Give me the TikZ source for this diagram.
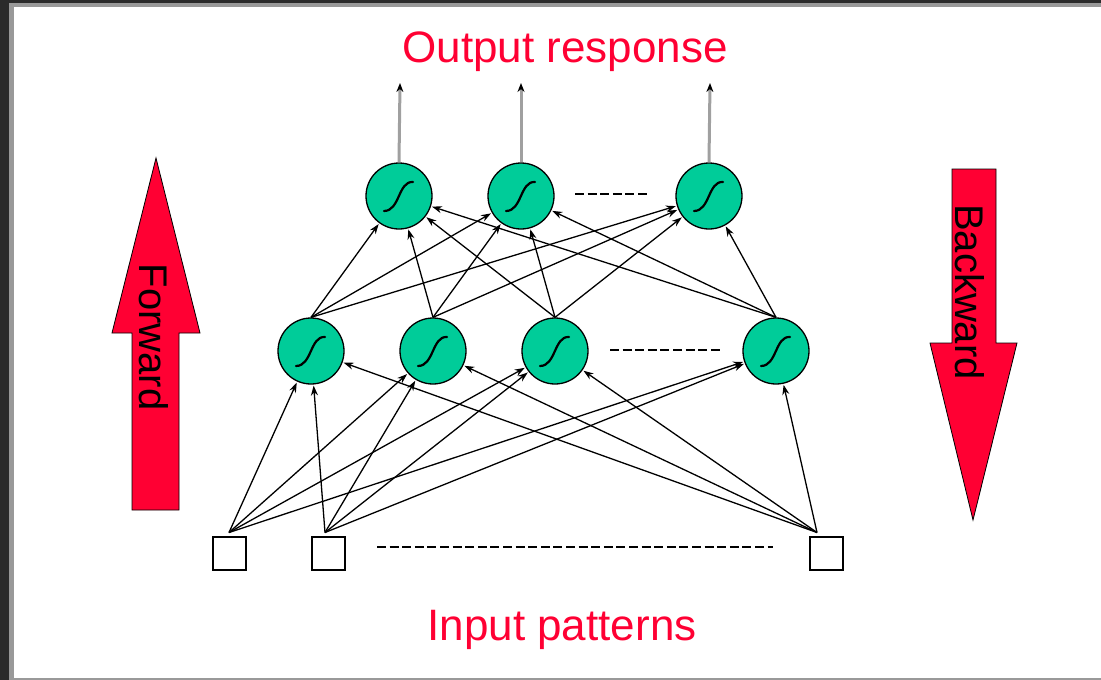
\documentclass[tikz,border=0pt]{standalone}
\usepackage{fontspec}
\setmainfont{Liberation Sans}
\usetikzlibrary{arrows.meta}
\definecolor{neuron}{RGB}{0,204,153}
\definecolor{redarrow}{RGB}{255,0,51}
\definecolor{framedark}{RGB}{43,43,43}
\definecolor{framegray}{RGB}{153,153,153}
\definecolor{outgray}{RGB}{160,160,160}
\begin{document}
\begin{tikzpicture}[x=1pt,y=-1pt,
  neuronnode/.style={circle, draw=black, line width=1.3pt, fill=neuron,
    minimum size=66pt, inner sep=0pt,
    path picture={\draw[line width=2.2pt, line cap=round]
      ([shift={(-15pt,-15pt)}]path picture bounding box.center)
      .. controls ([shift={(1pt,-15pt)}]path picture bounding box.center)
      and ([shift={(-1pt,15pt)}]path picture bounding box.center)
      .. ([shift={(14pt,14pt)}]path picture bounding box.center);}},
  inbox/.style={draw=black, line width=2pt, fill=white, minimum size=33pt, inner sep=0pt},
  conn/.style={line width=1.3pt, -{Stealth[length=10pt,width=7pt]}, shorten >=1pt},
  outconn/.style={line width=3pt, draw=outgray, -{Stealth[length=9pt,width=7pt,color=black]}},
  dashline/.style={line width=1.8pt, dash pattern=on 9pt off 3.6pt},
  redtext/.style={text=redarrow, font=\fontsize{44}{52}\selectfont, inner sep=0pt},
  bigarrow/.style={fill=redarrow, draw=black, line width=0.8pt},
  arrowtext/.style={font=\fontsize{40}{48}\selectfont, inner sep=0pt, rotate=-90}
]
\useasboundingbox (0,0) rectangle (1101,680);
% frame
\fill[framedark] (0,0) rectangle (1101,680);
\fill[framegray] (9,3) rectangle (1101,680);
\fill[white] (14,7) rectangle (1101,677.5);

% big arrows
\draw[bigarrow] (156,158) -- (200,333) -- (179,333) -- (179,510) -- (132,510) -- (132,333) -- (112,333) -- cycle;
\draw[bigarrow] (952,169) -- (996,169) -- (996,343) -- (1017,343) -- (973,520) -- (930,343) -- (952,343) -- cycle;
\node[arrowtext] (fw) at (154,337) {Forward};
\node[arrowtext] (bw) at (970,292) {Backward};

% texts
\node[redtext, anchor=base] (out) at (565,62) {Output response};
\node[redtext, anchor=base] (inp) at (562,640) {Input patterns};

% neurons
\node[neuronnode] (t1) at (399,196) {};
\node[neuronnode] (t2) at (521,196) {};
\node[neuronnode] (t3) at (709,196) {};
\node[neuronnode] (m1) at (311,351) {};
\node[neuronnode] (m2) at (433,351) {};
\node[neuronnode] (m3) at (555,351) {};
\node[neuronnode] (m4) at (776,351) {};
\node[inbox] (i1) at (229,553) {};
\node[inbox] (i2) at (328,553) {};
\node[inbox] (i3) at (826,553) {};

% input -> hidden
\foreach \m in {m1,m2,m3,m4}{
  \draw[conn] ([yshift=3pt]i1.north) -- (\m);
  \draw[conn] ([shift={(-3pt,3pt)}]i2.north) -- (\m);
  \draw[conn] ([shift={(-9pt,3pt)}]i3.north) -- (\m);
}
% hidden -> top
\foreach \m in {m1,m2,m3,m4}{
  \foreach \t in {t1,t2,t3}{
    \draw[conn] (\m.north) -- (\t);
  }
}
% outputs
\coordinate (o1) at (400,83);
\coordinate (o2) at (521,83);
\coordinate (o3) at (710,83);
\draw[outconn] (t1.north) -- (o1);
\draw[outconn] (t2.north) -- (o2);
\draw[outconn] (t3.north) -- (o3);

% dashed lines
\coordinate (da) at (575,194);
\coordinate (db) at (650,194);
\coordinate (dc) at (610,350);
\coordinate (dd) at (723,350);
\coordinate (de) at (377,547);
\coordinate (df) at (773,547);
\draw[dashline] (da) -- (db);
\draw[dashline] (dc) -- (dd);
\draw[dashline] (de) -- (df);
\end{tikzpicture}
\end{document}
